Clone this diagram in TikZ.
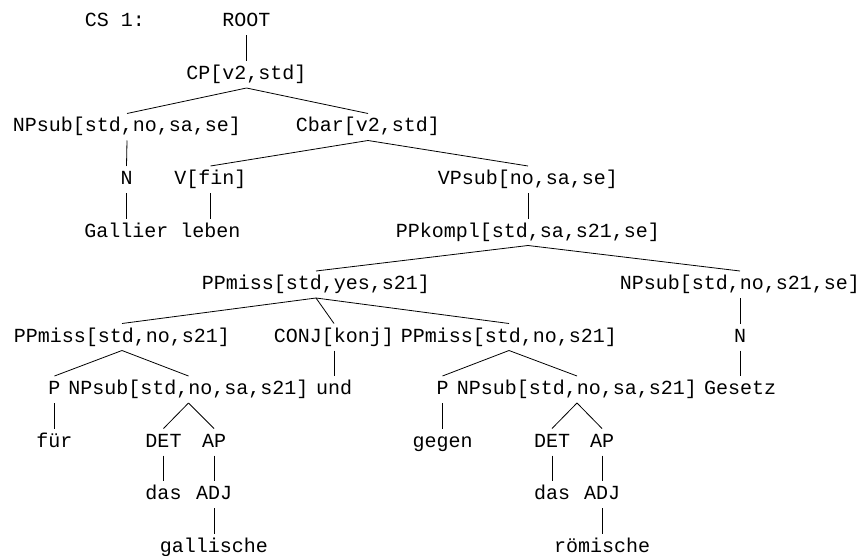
\documentclass[tikz,border=0pt]{standalone}
\usepackage{fontspec}
\setmonofont{Liberation Mono}
\begin{document}
\begin{tikzpicture}[x=0.75pt,y=-0.75pt,
  lab/.style={anchor=base,inner sep=0pt,outer sep=0pt,text height=13.875pt,text depth=6.375pt,
    font=\ttfamily\fontsize{15}{18}\selectfont},
  edge/.style={line width=0.6pt,black}]
\useasboundingbox (0,0) rectangle (856,556);
% rows: baseline = 27 + 52.5 k
\node[lab] (cs) at (115,27) {CS 1:};
\node[lab] (root) at (246.5,27) {ROOT};
\node[lab] (cp) at (246.5,79.5) {CP[v2,std]};
\node[lab] (np1) at (127,132) {NPsub[std,no,sa,se]};
\node[lab] (cbar) at (368,132) {Cbar[v2,std]};
\node[lab] (n1) at (126.5,184.5) {N};
\node[lab] (vfin) at (210.5,184.5) {V[fin]};
\node[lab] (vpsub) at (528,184.5) {VPsub[no,sa,se]};
\node[lab] (gallier) at (126.5,237) {Gallier};
\node[lab] (leben) at (210.5,237) {leben};
\node[lab] (ppkompl) at (528,237) {PPkompl[std,sa,s21,se]};
\node[lab] (ppy) at (316,289.5) {PPmiss[std,yes,s21]};
\node[lab] (np2) at (740,289.5) {NPsub[std,no,s21,se]};
\node[lab] (ppl) at (122,342) {PPmiss[std,no,s21]};
\node[lab] (conj) at (334,342) {CONJ[konj]};
\node[lab] (ppr) at (509,342) {PPmiss[std,no,s21]};
\node[lab] (n2) at (740,342) {N};
\node[lab] (p1) at (54.5,394.5) {P};
\node[lab] (np3) at (188.5,394.5) {NPsub[std,no,sa,s21]};
\node[lab] (und) at (334,394.5) {und};
\node[lab] (p2) at (442.5,394.5) {P};
\node[lab] (np4) at (577,394.5) {NPsub[std,no,sa,s21]};
\node[lab] (gesetz) at (740,394.5) {Gesetz};
\node[lab] (fuer) at (54.5,447) {für};
\node[lab] (det1) at (163.5,447) {DET};
\node[lab] (ap1) at (214,447) {AP};
\node[lab] (gegen) at (442.5,447) {gegen};
\node[lab] (det2) at (552,447) {DET};
\node[lab] (ap2) at (602,447) {AP};
\node[lab] (das1) at (163.5,499.5) {das};
\node[lab] (adj1) at (214,499.5) {ADJ};
\node[lab] (das2) at (552,499.5) {das};
\node[lab] (adj2) at (602,499.5) {ADJ};
\node[lab] (gall) at (214,552) {gallische};
\node[lab] (roem) at (602,552) {römische};
\foreach \a/\b in {root/cp,cp/np1,cp/cbar,np1/n1,n1/gallier,cbar/vfin,cbar/vpsub,vfin/leben,
  vpsub/ppkompl,ppkompl/ppy,ppkompl/np2,ppy/ppl,ppy/conj,ppy/ppr,np2/n2,n2/gesetz,
  ppl/p1,ppl/np3,conj/und,p1/fuer,np3/det1,np3/ap1,det1/das1,ap1/adj1,adj1/gall,
  ppr/p2,ppr/np4,p2/gegen,np4/det2,np4/ap2,det2/das2,ap2/adj2,adj2/roem}
  \draw[edge] (\a.south) -- (\b.north);
\end{tikzpicture}
\end{document}
